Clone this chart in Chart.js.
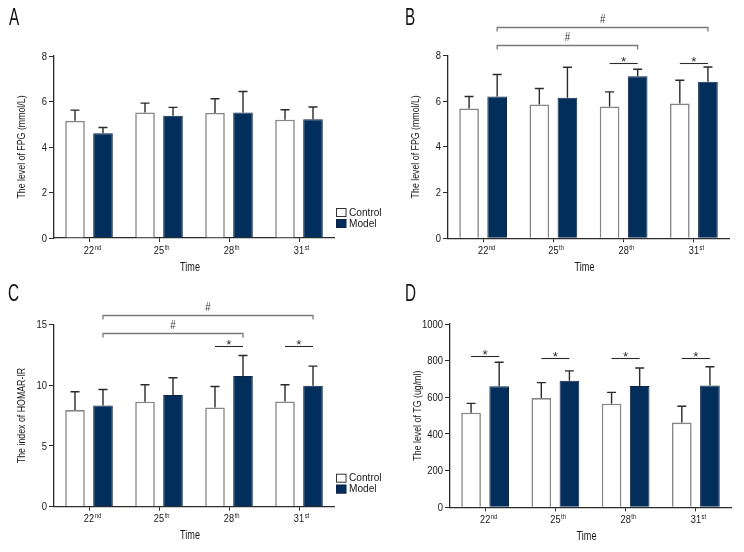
<!DOCTYPE html>
<html><head><meta charset="utf-8">
<script src="https://cdn.jsdelivr.net/npm/chart.js@4.4.1/dist/chart.umd.min.js"></script>
<style>
html,body{margin:0;padding:0;background:#fff;}
body{width:744px;height:552px;position:relative;overflow:hidden;}
canvas{position:absolute;display:block;}
</style></head><body>
<canvas id="cA" width="400" height="276" style="left:0;top:0"></canvas>
<canvas id="cB" width="344" height="276" style="left:400px;top:0"></canvas>
<canvas id="cC" width="400" height="276" style="left:0;top:276px"></canvas>
<canvas id="cD" width="344" height="276" style="left:400px;top:276px"></canvas>
<script>
// ---------- data ----------
const categories = ['22', '25', '28', '31'];
const ordinalSuffix = ['nd', 'th', 'th', 'st'];
const seriesNames = ['Control', 'Model'];
const xTitle = 'Time';

// Panel A: FPG (mmol/L)
const fpgA_control   = [5.15, 5.52, 5.50, 5.20];
const fpgA_controlSD = [0.47, 0.41, 0.62, 0.44];
const fpgA_model     = [4.60, 5.37, 5.52, 5.22];
const fpgA_modelSD   = [0.26, 0.37, 0.92, 0.54];
const yTicksA = [0, 2, 4, 6, 8];

// Panel B: FPG (mmol/L)
const fpgB_control   = [5.67, 5.85, 5.76, 5.89];
const fpgB_controlSD = [0.53, 0.70, 0.64, 1.02];
const fpgB_model     = [6.20, 6.14, 7.08, 6.84];
const fpgB_modelSD   = [0.96, 1.34, 0.31, 0.65];
const yTicksB = [0, 2, 4, 6, 8];

// Panel C: HOMA-IR index
const homaC_control   = [7.95, 8.63, 8.16, 8.66];
const homaC_controlSD = [1.50, 1.40, 1.73, 1.37];
const homaC_model     = [8.33, 9.18, 10.74, 9.95];
const homaC_modelSD   = [1.31, 1.42, 1.70, 1.61];
const yTicksC = [0, 5, 10, 15];

// Panel D: TG (ug/ml)
const tgD_control   = [516, 596, 565, 462];
const tgD_controlSD = [51, 84, 62, 89];
const tgD_model     = [660, 691, 662, 664];
const tgD_modelSD   = [131, 53, 98, 103];
const yTicksD = [0, 200, 400, 600, 800, 1000];

// significance marks (levels in data units)
const sigA = [];
const sigB = [
  {type: 'bracket', from: 0, to: 3, level: 9.22, text: '#'},
  {type: 'bracket', from: 0, to: 2, level: 8.45, text: '#'},
  {type: 'star', cat: 2, level: 7.68},
  {type: 'star', cat: 3, level: 7.68}
];
const sigC = [
  {type: 'bracket', from: 0, to: 3, level: 15.75, text: '#'},
  {type: 'bracket', from: 0, to: 2, level: 14.27, text: '#'},
  {type: 'star', cat: 2, level: 13.18},
  {type: 'star', cat: 3, level: 13.18}
];
const sigD = [
  {type: 'star', cat: 0, level: 824},
  {type: 'star', cat: 1, level: 813},
  {type: 'star', cat: 2, level: 813},
  {type: 'star', cat: 3, level: 813}
];

// ---------- style ----------
const FONT = "'Liberation Sans', Arial, sans-serif";
const NAVY = '#022e5c';
const TXT = '#161616';
const AXIS = '#2a2a2a';

// condensed text helper (horizontal squeeze imitates a condensed face)
function txt(ctx, s, x, y, o) {
  ctx.save();
  ctx.translate(x, y);
  if (o.rotate) ctx.rotate(-Math.PI / 2);
  ctx.scale(o.sx || 1, 1);
  ctx.font = (o.weight ? o.weight + ' ' : '') + o.size + 'px ' + FONT;
  ctx.fillStyle = o.color || TXT;
  ctx.textAlign = o.align || 'left';
  ctx.textBaseline = o.baseline || 'alphabetic';
  ctx.fillText(s, 0, 0);
  ctx.restore();
}
function txtWidth(ctx, s, size, sx) {
  ctx.save();
  ctx.font = size + 'px ' + FONT;
  const w = ctx.measureText(s).width * sx;
  ctx.restore();
  return w;
}

const panelPlugin = {
  id: 'panelPlugin',
  afterDatasetsDraw(chart) {
    const ctx = chart.ctx;
    const y = chart.scales.y;
    ctx.save();
    ctx.strokeStyle = AXIS;
    ctx.lineWidth = 1.4;
    chart.data.datasets.forEach((ds, di) => {
      const meta = chart.getDatasetMeta(di);
      meta.data.forEach((el, i) => {
        const top = y.getPixelForValue(ds.data[i] + ds.sd[i]);
        ctx.beginPath();
        ctx.moveTo(el.x, el.y);
        ctx.lineTo(el.x, top);
        ctx.moveTo(el.x - 4.5, top);
        ctx.lineTo(el.x + 4.5, top);
        ctx.stroke();
      });
    });
    ctx.restore();
  },
  afterDraw(chart) {
    const ctx = chart.ctx;
    const o = chart.options.plugins.panelPlugin;
    const xs = chart.scales.x, ys = chart.scales.y;
    const area = chart.chartArea;
    // y tick labels
    o.yTicks.forEach(v => {
      txt(ctx, String(v), area.left - 7, ys.getPixelForValue(v) + 0.5,
        {size: 11.5, sx: 0.82, align: 'right', baseline: 'middle'});
    });
    // y title
    txt(ctx, o.yTitle, area.left - 32, (area.top + area.bottom) / 2,
      {size: 11, sx: 0.8, align: 'center', baseline: 'middle', rotate: true});
    // x tick labels with superscripts
    categories.forEach((c, i) => {
      const x = xs.getPixelForValue(i);
      const base = area.bottom + 15.5;
      const w = txtWidth(ctx, c, 10.5, 0.88);
      txt(ctx, c, x - w / 2, base, {size: 10.5, sx: 0.88});
      txt(ctx, ordinalSuffix[i], x + w / 2 + 0.5, base - 4, {size: 6.5, sx: 0.9});
    });
    // x title
    txt(ctx, xTitle, (area.left + area.right) / 2 - 4, area.bottom + 29,
      {size: 13, sx: 0.7, align: 'center', baseline: 'middle'});
    // significance marks
    const m0 = chart.getDatasetMeta(0), m1 = chart.getDatasetMeta(1);
    ctx.save();
    o.sig.forEach(s => {
      const ly = Math.round(ys.getPixelForValue(s.level)) + 0.5;
      if (s.type === 'bracket') {
        const x1 = m1.data[s.from].x, x2 = m1.data[s.to].x;
        ctx.strokeStyle = '#7a7a7a';
        ctx.lineWidth = 1.3;
        ctx.beginPath();
        ctx.moveTo(x1, ly + 4); ctx.lineTo(x1, ly); ctx.lineTo(x2, ly); ctx.lineTo(x2, ly + 4);
        ctx.stroke();
        txt(ctx, s.text, (x1 + x2) / 2, ly - 5, {size: 12, sx: 0.8, align: 'center', color: '#333'});
      } else {
        const x1 = m0.data[s.cat].x, x2 = m1.data[s.cat].x;
        ctx.strokeStyle = '#2a2a2a';
        ctx.lineWidth = 1.1;
        ctx.beginPath();
        ctx.moveTo(x1, ly); ctx.lineTo(x2, ly);
        ctx.stroke();
        txt(ctx, '*', (x1 + x2) / 2, ly + 2, {size: 13.5, sx: 1, align: 'center', color: '#2a2a2a'});
      }
    });
    ctx.restore();
    // legend
    if (o.legend) {
      const L = o.legend;
      ctx.save();
      chart.data.datasets.forEach((ds, i) => {
        const by = L.y + i * 11;
        ctx.fillStyle = ds.backgroundColor;
        ctx.fillRect(L.x, by, 10, 8.5);
        ctx.strokeStyle = i === 0 ? '#333' : '#0d2442';
        ctx.lineWidth = 1;
        ctx.strokeRect(L.x + 0.5, by + 0.5, 9.5, 8);
        txt(ctx, seriesNames[i], L.x + 13, by + 4.5, {size: 11.5, sx: 0.88, baseline: 'middle'});
      });
      ctx.restore();
    }
    // panel letter
    txt(ctx, o.letter, o.letterX, 25, {size: 23.5, sx: 0.65, color: '#111'});
  }
};

function makePanel(id, cfg) {
  const canvas = document.getElementById(id);
  const W = canvas.width, H = canvas.height;
  const xHeight = 30;
  return new Chart(canvas, {
    type: 'bar',
    data: {
      labels: categories,
      datasets: [
        {label: seriesNames[0], data: cfg.control, sd: cfg.controlSD, backgroundColor: '#ffffff', borderColor: '#858585', borderWidth: 1.6},
        {label: seriesNames[1], data: cfg.model, sd: cfg.modelSD, backgroundColor: NAVY, borderColor: '#0d2442', borderWidth: 1}
      ]
    },
    options: {
      responsive: false,
      animation: false,
      events: [],
      layout: {padding: {left: cfg.left - 40, right: W - cfg.right, top: cfg.top, bottom: H - cfg.bottom - xHeight}},
      datasets: {bar: {categoryPercentage: 0.8, barPercentage: 0.7}},
      plugins: {
        legend: {display: false},
        tooltip: {enabled: false},
        panelPlugin: {sig: cfg.sig, legend: cfg.legend, letter: cfg.letter, letterX: cfg.letterX,
          yTicks: cfg.yTicks, yTitle: cfg.yTitle}
      },
      scales: {
        x: {
          offset: true,
          grid: {display: true, drawOnChartArea: false, drawTicks: true, tickLength: 4, offset: false, color: AXIS},
          border: {display: true, color: AXIS, width: 1.3},
          ticks: {display: false},
          afterFit(s) { s.height = xHeight; }
        },
        y: {
          min: cfg.yTicks[0],
          max: cfg.yTicks[cfg.yTicks.length - 1],
          afterBuildTicks(s) { s.ticks = cfg.yTicks.map(v => ({value: v})); },
          ticks: {display: false},
          grid: {display: true, drawOnChartArea: false, drawTicks: true, tickLength: 5, color: AXIS},
          border: {display: true, color: AXIS, width: 1.3},
          afterFit(s) { s.width = 40; }
        }
      }
    },
    plugins: [panelPlugin]
  });
}

makePanel('cA', {control: fpgA_control, controlSD: fpgA_controlSD, model: fpgA_model, modelSD: fpgA_modelSD,
  yTicks: yTicksA, yTitle: 'The level of FPG (mmol/L)', sig: sigA,
  left: 54, right: 334, top: 56, bottom: 238,
  legend: {x: 336, y: 208}, letter: 'A', letterX: 9});
makePanel('cB', {control: fpgB_control, controlSD: fpgB_controlSD, model: fpgB_model, modelSD: fpgB_modelSD,
  yTicks: yTicksB, yTitle: 'The level of FPG (mmol/L)', sig: sigB,
  left: 48, right: 329, top: 55.3, bottom: 238.3,
  legend: null, letter: 'B', letterX: 5});
makePanel('cC', {control: homaC_control, controlSD: homaC_controlSD, model: homaC_model, modelSD: homaC_modelSD,
  yTicks: yTicksC, yTitle: 'The index of HOMAR-IR', sig: sigC,
  left: 54, right: 334, top: 48.3, bottom: 230.7,
  legend: {x: 336, y: 197.7}, letter: 'C', letterX: 8});
makePanel('cD', {control: tgD_control, controlSD: tgD_controlSD, model: tgD_model, modelSD: tgD_modelSD,
  yTicks: yTicksD, yTitle: 'The level of TG (ug/ml)', sig: sigD,
  left: 50, right: 331, top: 48, bottom: 231.3,
  legend: null, letter: 'D', letterX: 5});
</script>
</body></html>
